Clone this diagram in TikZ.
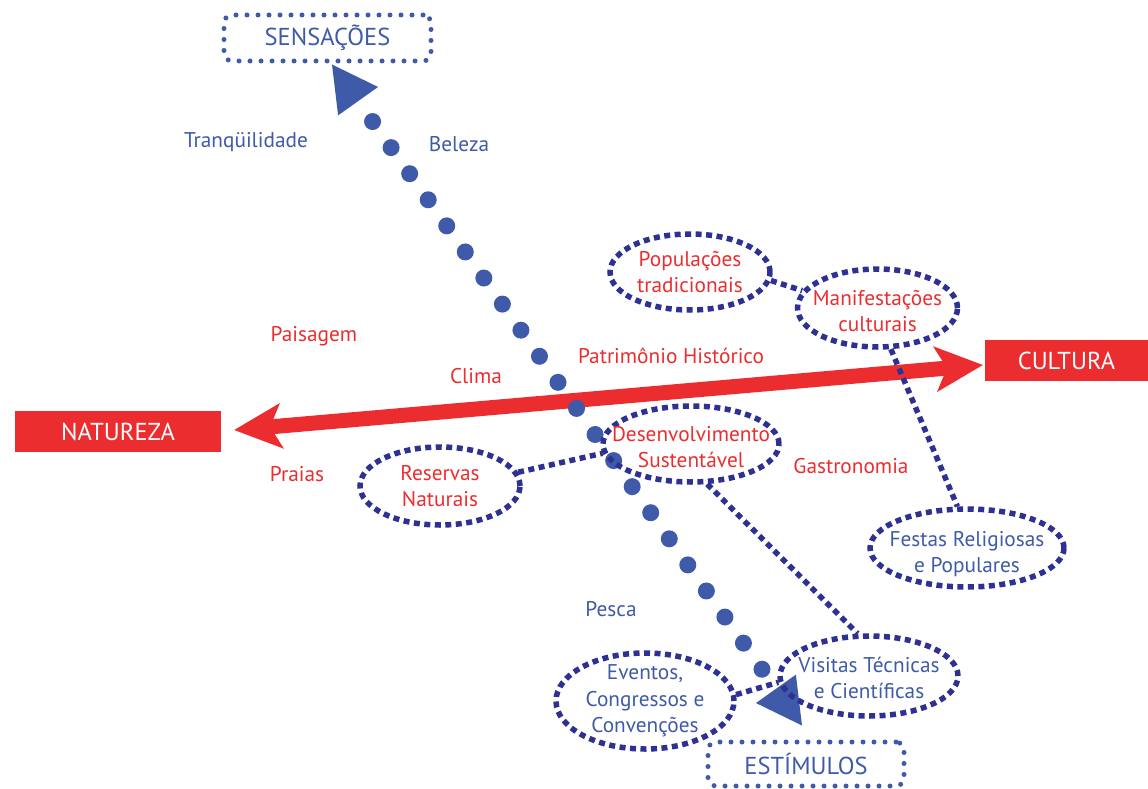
\documentclass[tikz,border=0pt]{standalone}
\usepackage{fontspec}
\setmainfont{PT Sans}
\usetikzlibrary{arrows.meta,shapes.geometric,calc}
\definecolor{vermelho}{HTML}{EC2D2F}
\definecolor{azul}{HTML}{3F5AA8}
\definecolor{marinho}{HTML}{2E3192}
\begin{document}
\begin{tikzpicture}[x=1pt, y=-1pt,
	caixa/.style={draw=azul, line width=5pt, dash pattern=on 0pt off 11pt, line cap=round, rounded corners=8pt, text=azul, font=\fontsize{24.5}{28}\selectfont, inner sep=0pt},
	faixa/.style={fill=vermelho, text=white, font=\fontsize{24.5}{28}\selectfont, minimum height=41pt, inner sep=0pt},
	elipse/.style={ellipse, draw=marinho, line width=5.5pt, dash pattern=on 6pt off 4.5pt, inner sep=0pt},
	verm/.style={text=vermelho, font=\fontsize{21.3}{26.5}\selectfont, align=center},
	az/.style={text=azul, font=\fontsize{21.3}{26.5}\selectfont, align=center},
	ligacao/.style={draw=marinho, line width=5.5pt, dash pattern=on 6pt off 4.5pt}]
	\useasboundingbox (0,0) rectangle (1148,789);
	% eixos
	\node[caixa, minimum width=207pt, minimum height=46pt] (sens) at (327.5,38) {SENSAÇÕES};
	\node[caixa, minimum width=196pt, minimum height=44pt] (estim) at (806,764) {ESTÍMULOS};
	\node[faixa, minimum width=206pt] (nat) at (118,431.5) {NATUREZA};
	\node[faixa, minimum width=163pt] (cult) at (1066.5,360.5) {CULTURA};
	\draw[vermelho, line width=15pt, {Stealth[length=48pt,width=46pt,inset=12pt,line width=0pt]}-{Stealth[length=48pt,width=46pt,inset=12pt,line width=0pt]}] ($(nat.east)+(13,-1.5)$) -- ($(cult.west)+(-2,4.5)$);
	\coordinate (topo) at ($(sens.south)+(4.5,1)$);
	\coordinate (fundo) at ($(estim.north)+(-4,-14)$);
	\draw[azul, line width=17pt, line cap=round, dash pattern=on 0pt off 32pt, dash phase=7pt, {Triangle[length=45pt,width=49pt,line width=0pt]}-{Triangle[length=45pt,width=49pt,line width=0pt]}] (topo) -- (fundo);
	% palavras soltas
	\node[az, anchor=base] (tranq) at (246,147) {Tranqüilidade};
	\node[az, anchor=base] (beleza) at (459,151) {Beleza};
	\node[verm, anchor=base] (paisagem) at (314,341) {Paisagem};
	\node[verm, anchor=base] (clima) at (476,383) {Clima};
	\node[verm, anchor=base] (patrim) at (671,363) {Patrimônio Histórico};
	\node[verm, anchor=base] (praias) at (297,481) {Praias};
	\node[verm, anchor=base] (gastro) at (851,473) {Gastronomia};
	\node[az, anchor=base] (pesca) at (611,616) {Pesca};
	% elipses
	\node[elipse, minimum width=160pt, minimum height=76pt, label={[verm]center:{Populações\\tradicionais}}] (pop) at (690,272) {};
	\node[elipse, minimum width=160pt, minimum height=78pt, label={[verm, yshift=-3pt]center:{Manifestações\\culturais}}] (manif) at (877.5,308) {};
	\node[elipse, minimum width=176pt, minimum height=76pt, label={[verm, yshift=-3pt]center:{Desenvolvimento\\Sustentável}}] (desenv) at (691,444) {};
	\node[elipse, minimum width=160pt, minimum height=78pt, label={[verm]center:{Reservas\\Naturais}}] (reserv) at (440,486) {};
	\node[elipse, minimum width=194pt, minimum height=78pt, label={[az, yshift=-6pt]center:{Festas Religiosas\\e Populares}}] (festas) at (967,548) {};
	\node[elipse, minimum width=178pt, minimum height=80pt, label={[az, yshift=-2pt]center:{Visitas Técnicas\\e Científicas}}] (visitas) at (869,676) {};
	\node[elipse, minimum width=178pt, minimum height=96pt, label={[az]center:{Eventos,\\Congressos e\\Convenções}}] (eventos) at (645,701) {};
	% ligacoes
	\draw[ligacao] (pop.-6) -- (manif.167);
	\draw[ligacao] (manif.-72) -- (festas.103);
	\draw[ligacao] (reserv.10) -- (desenv.186);
	\draw[ligacao] (desenv.-68) -- (visitas.105);
	\draw[ligacao] (eventos.4) -- (visitas.184);
\end{tikzpicture}
\end{document}
